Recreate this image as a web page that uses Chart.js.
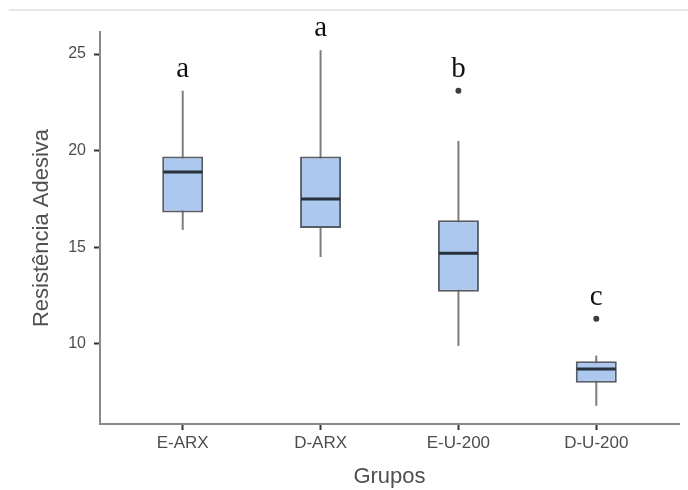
<!DOCTYPE html>
<html>
<head>
<meta charset="utf-8">
<script src="https://cdn.jsdelivr.net/npm/chart.js@4"></script>
<style>
  body{margin:0;background:#fff;}
  #wrap{position:relative;width:688px;height:490px;}
  #topline{position:absolute;top:9px;left:9px;right:0;height:2px;background:#e8e8e8;}
</style>
</head>
<body>
<div id="wrap">
  <canvas id="chart" width="688" height="490"></canvas>
  <div id="topline"></div>
</div>
<script>
// ===================== Daten =====================
const groups      = ["E-ARX", "D-ARX", "E-U-200", "D-U-200"];
const whiskerLow  = [15.9, 14.5, 9.9, 6.8];
const q1          = [16.8, 16.0, 12.7, 8.0];
const median      = [18.9, 17.5, 14.7, 8.7];
const q3          = [19.7, 19.7, 16.4, 9.1];
const whiskerHigh = [23.1, 25.2, 20.5, 9.4];
const outliers    = [null, null, 23.1, 11.3];
const letters     = ["a", "a", "b", "c"];
const yTicks      = [10, 15, 20, 25];

const SANS = "'Liberation Sans', Arial, sans-serif";
const pos = groups.map((_, i) => i + 1);

// ===================== Buchstaben über den Boxen =====================
const lettersPlugin = {
    id: "letters",
    afterDatasetsDraw(chart){
        const {ctx, scales:{x, y}} = chart;
        ctx.save();
        ctx.font = "29px 'Liberation Serif', 'Times New Roman', serif";
        ctx.fillStyle = "#111";
        ctx.textAlign = "center";
        ctx.textBaseline = "alphabetic";
        letters.forEach((l, i) => {
            const top = Math.max(whiskerHigh[i], outliers[i] ?? -Infinity);
            ctx.fillText(l, x.getPixelForValue(pos[i]), y.getPixelForValue(top) - 14);
        });
        ctx.restore();
    }
};

const axisGrid = () => ({display:true, offset:false, drawOnChartArea:false, drawTicks:true, tickLength:6, color:"#333", tickColor:"#333", tickWidth:2});
const axisBorder = {display:true, color:"#8a8a8a", width:2};

new Chart(document.getElementById("chart"), {
    type: "bar",
    data: {
        datasets: [
            {
                type: "line", label: "Mediana", order: 0,
                data: pos.map((p, i) => ({x:p, y:median[i]})),
                showLine: false, pointStyle: "line", pointRadius: 19.5,
                borderColor: "#27313c", borderWidth: 3
            },
            {
                type: "line", label: "Outliers", order: 0,
                data: pos.map((p, i) => ({x:p, y:outliers[i]})).filter(d => d.y !== null),
                showLine: false, pointRadius: 3, pointBackgroundColor: "#3d3d3d", pointBorderWidth: 0
            },
            {
                label: "Box", order: 1, grouped: false,
                data: pos.map((p, i) => ({x:p, y:[q1[i], q3[i]]})),
                backgroundColor: "#adc8ef", borderColor: "#575d66", borderWidth: 2,
                borderSkipped: false, maxBarThickness: 41
            },
            {
                label: "Whisker", order: 2, grouped: false,
                data: pos.map((p, i) => ({x:p, y:[whiskerLow[i], whiskerHigh[i]]})),
                backgroundColor: "#7d7d7d", borderWidth: 0, maxBarThickness: 2
            }
        ]
    },
    options: {
        responsive: false,
        animation: false,
        layout: {autoPadding: false, padding: {top:32, right:9, left:0, bottom:0}},
        plugins: {legend:{display:false}, tooltip:{enabled:false}},
        scales: {
            x: {
                type: "linear", min: 0.4, max: 4.6, offset: false,
                afterBuildTicks: s => { s.ticks = pos.map(v => ({value:v})); },
                afterFit: s => { s.height = 66; s.paddingLeft = 0; s.paddingRight = 0; },
                ticks: {callback: v => groups[v - 1], font:{family:SANS, size:17}, color:"#4d4d4d", padding:3, maxRotation:0},
                grid: axisGrid(), border: axisBorder,
                title: {display:true, text:"Grupos", font:{family:SANS, size:22}, color:"#505050", padding:{top:0, bottom:0}}
            },
            y: {
                min: 5.86, max: 26.14,
                afterBuildTicks: s => { s.ticks = yTicks.map(v => ({value:v})); },
                afterFit: s => { s.width = 100; s.paddingTop = 0; s.paddingBottom = 0; },
                ticks: {font:{family:SANS, size:16}, color:"#4d4d4d", padding:8},
                grid: axisGrid(), border: axisBorder,
                title: {display:true, text:"Resistência Adesiva", font:{family:SANS, size:22}, color:"#505050", padding:{top:29, bottom:0}}
            }
        }
    },
    plugins: [lettersPlugin]
});
</script>
</body>
</html>
